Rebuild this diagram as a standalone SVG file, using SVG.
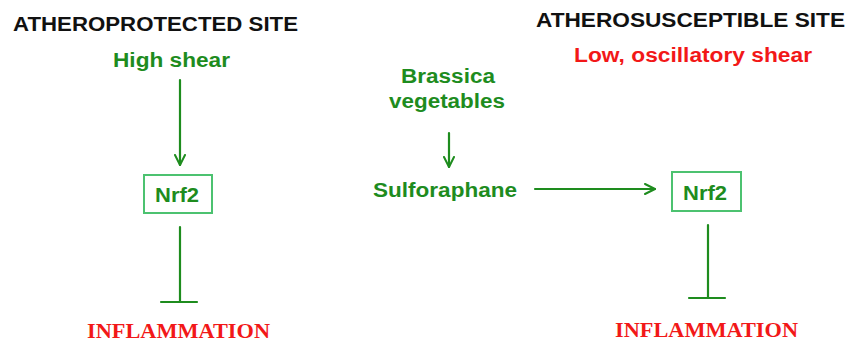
<svg xmlns="http://www.w3.org/2000/svg" width="848" height="342" viewBox="0 0 848 342">
<defs>
<style>
.title{font-family:"Liberation Sans",Arial,sans-serif;font-weight:bold;font-size:21px;fill:#111}
.g{font-family:"Liberation Sans",Arial,sans-serif;font-weight:bold;font-size:20px;fill:#1e8c1e}
.red{font-family:"Liberation Sans",Arial,sans-serif;font-weight:bold;font-size:20px;fill:#f21818}
.inf{font-family:"Liberation Serif","Times New Roman",serif;font-weight:bold;font-size:22px;fill:#f21818}
.box{fill:#fff;stroke:#4cc270;stroke-width:2}
.ln{stroke:#1e8c1e;stroke-width:2.2;fill:none;stroke-linecap:round}
</style>
<marker id="arr" viewBox="0 0 12 12" refX="11" refY="6" markerWidth="12" markerHeight="12" markerUnits="userSpaceOnUse" orient="auto">
<path d="M1,1 L11,6 L1,11" fill="none" stroke="#1e8c1e" stroke-width="2" stroke-linecap="round" stroke-linejoin="round"/>
</marker>
</defs>
<rect width="848" height="342" fill="#fff"/>
<g id="title-left"><text class="title" x="13" y="31" textLength="285" lengthAdjust="spacingAndGlyphs">ATHEROPROTECTED SITE</text></g>
<g id="title-right"><text class="title" x="536" y="27" textLength="309" lengthAdjust="spacingAndGlyphs">ATHEROSUSCEPTIBLE SITE</text></g>
<g id="high-shear"><text class="g" x="113" y="67" textLength="117" lengthAdjust="spacingAndGlyphs">High shear</text></g>
<g id="low-shear"><text class="red" x="574" y="62" textLength="238" lengthAdjust="spacingAndGlyphs">Low, oscillatory shear</text></g>
<g id="brassica"><text class="g" x="401" y="83" textLength="94" lengthAdjust="spacingAndGlyphs">Brassica</text><text class="g" x="389" y="108" textLength="116" lengthAdjust="spacingAndGlyphs">vegetables</text></g>
<g id="sulforaphane"><text class="g" x="373" y="197" textLength="144" lengthAdjust="spacingAndGlyphs">Sulforaphane</text></g>
<g id="nrf2-left"><rect class="box" x="144" y="175" width="68" height="38"/><text class="g" x="155" y="202" textLength="44" lengthAdjust="spacingAndGlyphs">Nrf2</text></g>
<g id="nrf2-right"><rect class="box" x="672" y="172" width="69" height="39"/><text class="g" x="683" y="200" textLength="44" lengthAdjust="spacingAndGlyphs">Nrf2</text></g>
<g id="inflammation-left"><text class="inf" x="87" y="338" textLength="183" lengthAdjust="spacingAndGlyphs">INFLAMMATION</text></g>
<g id="inflammation-right"><text class="inf" x="615" y="337" textLength="183" lengthAdjust="spacingAndGlyphs">INFLAMMATION</text></g>
<g id="connectors">
<line class="ln" x1="180" y1="80" x2="180" y2="165" marker-end="url(#arr)"/>
<line class="ln" x1="449" y1="133" x2="449" y2="167" marker-end="url(#arr)"/>
<line class="ln" x1="535" y1="189" x2="655" y2="189" marker-end="url(#arr)"/>
<line class="ln" x1="180" y1="227" x2="180" y2="302"/>
<line class="ln" x1="161" y1="302" x2="197" y2="302"/>
<line class="ln" x1="708" y1="225" x2="708" y2="298"/>
<line class="ln" x1="689" y1="298" x2="725" y2="298"/>
</g>
</svg>
